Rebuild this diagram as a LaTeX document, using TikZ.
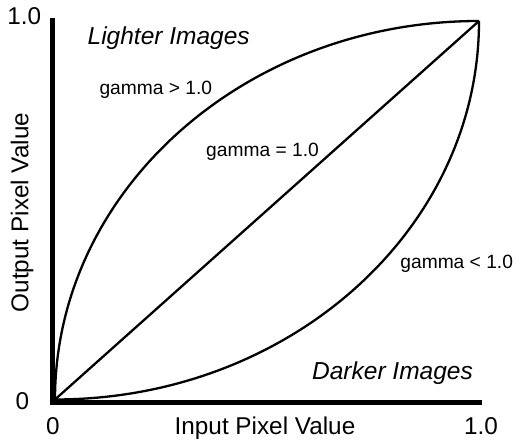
\documentclass[tikz,border=0pt]{standalone}
\usepackage{fontspec}
\setmainfont{Liberation Sans}
\begin{document}
\begin{tikzpicture}[x=1pt,y=1pt,
  big/.style={anchor=base,inner sep=0pt,font=\fontsize{24.3}{28}\selectfont},
  bigit/.style={big,font=\fontsize{24.5}{28}\selectfont\itshape},
  small/.style={anchor=base,inner sep=0pt,font=\fontsize{19.2}{23}\selectfont},
  axisline/.style={line width=5.5pt,line join=miter},
  curve/.style={line width=2.3pt}]
\useasboundingbox (0,0) rectangle (516,441);
% axes
\coordinate (ytop) at (52.5,423);
\coordinate (corner) at (52.5,38.5);
\coordinate (xend) at (482,38.5);
\draw[axisline] (ytop) -- (corner) -- (xend);
% curves
\coordinate (O) at (55,41.5);
\coordinate (T) at (479,420);
\draw[curve] (O) arc[start angle=180,end angle=90,x radius=424pt,y radius=378.5pt];
\draw[curve] (O) arc[start angle=270,end angle=360,x radius=424pt,y radius=378.5pt];
\draw[curve] (O) -- (T);
% labels
\node[big] (y1) at (24.3,416) {1.0};
\node[big] (y0) at (22.5,31) {0};
\node[big] (x0) at (53,6) {0};
\node[big] (x1) at (481,6) {1.0};
\node[big] (xl) at (265,6) {Input Pixel Value};
\node[big,rotate=90] (yl) at (28.5,228.5) {Output Pixel Value};
\node[bigit] (li) at (168.7,396) {Lighter Images};
\node[bigit] (di) at (392.5,61) {Darker Images};
\node[small] (g1) at (155.8,346.7) {gamma > 1.0};
\node[small] (g2) at (262.5,284.3) {gamma = 1.0};
\node[small] (g3) at (456.7,172.7) {gamma < 1.0};
\end{tikzpicture}
\end{document}
